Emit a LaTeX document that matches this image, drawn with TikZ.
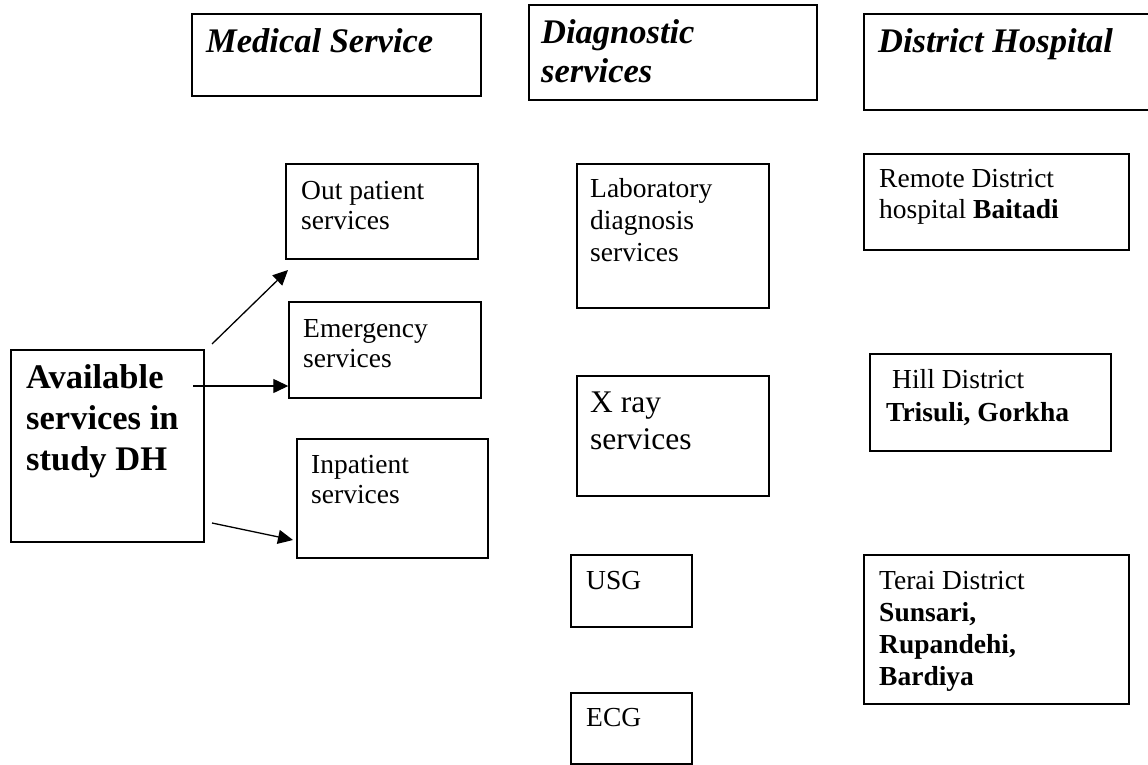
\documentclass[tikz,border=0pt]{standalone}
\usepackage{fontspec}
\setmainfont{Liberation Serif}
\usetikzlibrary{arrows.meta}
\newcommand\mylines[1]{\begin{tabular}[t]{@{}l@{}}#1\end{tabular}}
\begin{document}
\begin{tikzpicture}[x=1pt,y=-1pt,
  box/.style={draw, line width=1.4pt, inner sep=0pt},
  txt/.style={anchor=base west, inner sep=0pt, font=\fontsize{27.5}{30.5}\selectfont},
  head/.style={anchor=base west, inner sep=0pt, font=\fontsize{34.5}{38.5}\selectfont\bfseries\itshape},
  arr/.style={line width=1.3pt, -{Triangle[length=15pt,width=14pt]}}]
\useasboundingbox[fill=white] (0,0) rectangle (1148,765);

% boxes
\node[box, minimum width=289pt, minimum height=82pt] (med) at (336.5,55) {};
\node[box, minimum width=288pt, minimum height=95pt] (diag) at (673,52.5) {};
\node[box, minimum width=296pt, minimum height=96pt] (dist) at (1012,62) {};
\node[box, minimum width=192pt, minimum height=95pt] (out) at (382,211.5) {};
\node[box, minimum width=192pt, minimum height=96pt] (emer) at (385,350) {};
\node[box, minimum width=191pt, minimum height=119pt] (inp) at (392.5,498.5) {};
\node[box, minimum width=193pt, minimum height=192pt] (avail) at (107.5,446) {};
\node[box, minimum width=192pt, minimum height=144pt] (lab) at (673,236) {};
\node[box, minimum width=192pt, minimum height=120pt] (xray) at (673,436) {};
\node[box, minimum width=121pt, minimum height=72pt] (usg) at (631.5,591) {};
\node[box, minimum width=121pt, minimum height=71pt] (ecg) at (631.5,728.5) {};
\node[box, minimum width=265pt, minimum height=96pt] (remote) at (996.5,202) {};
\node[box, minimum width=241pt, minimum height=97pt] (hill) at (990.5,402.5) {};
\node[box, minimum width=265pt, minimum height=149pt] (terai) at (996.5,629.5) {};

% texts
\node[head] (medt) at (206,53) {Medical Service};
\node[head] (diagt) at (541,44) {\mylines{Diagnostic\\services}};
\node[head] (distt) at (878,53) {District Hospital};
\node[txt] (outt) at (301,199) {\mylines{Out patient\\services}};
\node[txt] (emert) at (303,337) {\mylines{Emergency\\services}};
\node[txt] (inpt) at (311,473) {\mylines{Inpatient\\services}};
\node[anchor=base west, inner sep=0pt, font=\fontsize{34.5}{41}\selectfont\bfseries] (availt) at (26,388) {\mylines{Available\\services in\\study DH}};
\node[txt, font=\fontsize{27.5}{32}\selectfont] (labt) at (590,197) {\mylines{Laboratory\\diagnosis\\services}};
\node[txt, font=\fontsize{31.5}{37}\selectfont] (xrayt) at (590,412) {\mylines{X ray\\services}};
\node[txt] (usgt) at (586,589) {USG};
\node[txt] (ecgt) at (586,726) {ECG};
\node[txt, font=\fontsize{27.5}{31}\selectfont] (remotet) at (879,187) {\mylines{Remote District\\hospital \textbf{Baitadi}}};
\node[txt, font=\fontsize{27.5}{33}\selectfont] (hillt) at (886,388) {\mylines{\hspace*{6pt}Hill District\\\textbf{Trisuli, Gorkha}}};
\node[txt, font=\fontsize{27.5}{32}\selectfont] (terait) at (879,589) {\mylines{Terai District\\\textbf{Sunsari,}\\\textbf{Rupandehi,}\\\textbf{Bardiya}}};

% arrows
\coordinate (a1s) at (212,344);
\coordinate (a1e) at (288,270);
\coordinate (a2s) at (193,386);
\coordinate (a3s) at (212,523);
\coordinate (a3e) at (293,540);
\draw[arr] (a1s) -- (a1e);
\draw[arr] (a2s) -- (a2s -| emer.west);
\draw[arr] (a3s) -- (a3e);
\end{tikzpicture}
\end{document}
